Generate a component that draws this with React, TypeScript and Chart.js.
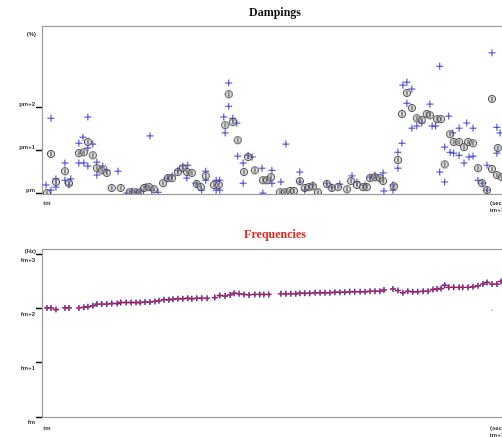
import React, { useEffect, useRef } from "react";
import { Chart, registerables } from "chart.js";
Chart.register(...registerables);

// ---- time axis ticks (tm .. tm+1) ----
const timeTicks = [0, 100];
const timeTickLabels = [["tm"], ["(sec)", "tm+1"]];

// ---- Dampings ----
const dampTicks = [0, 1, 2];
const dampTickLabels = ["pm", "pm+1", "pm+2"];
const dampUnit = "(%)";

// circled estimates
const dampCircleT = [0, 0.9, 2.0, 4.0, 4.9, 7.1, 8.2, 9.1, 10.2, 11.1, 12.2, 13.3, 14.4, 16.4, 18.4, 19.6, 20.7, 21.6, 22.7, 23.8, 25.8, 26.9, 27.8, 29.1, 30.2, 31.1, 32.2, 33.3, 34.2, 35.3, 37.1, 38.2, 39.6, 40.4, 41.3, 42.4, 43.8, 44.7, 46.2, 48.0, 48.9, 49.8, 51.8, 52.9, 54.0, 54.9, 56.2, 57.3, 58.2, 59.1, 60.2, 62.2, 63.3, 64.7, 66.7, 67.6, 68.9, 70.2, 71.1, 71.8, 72.9, 74.0, 74.7, 77.1, 78.0, 78.9, 80.0, 81.1, 82.2, 83.3, 84.4, 85.1, 86.7, 87.6, 88.4, 89.6, 90.4, 91.6, 92.7, 93.6, 94.7, 95.8, 96.7, 97.8, 98.9, 98.9, 100, 101.1, 100.2];
const dampCircleV = [0.0, 0.91, 0.26, 0.51, 0.23, 0.93, 0.95, 1.19, 0.88, 0.58, 0.53, 0.47, 0.12, 0.12, 0.02, 0.02, 0.02, 0.12, 0.14, 0.09, 0.23, 0.35, 0.35, 0.49, 0.58, 0.49, 0.47, 0.21, 0.14, 0.40, 0.19, 0.19, 1.58, 2.30, 1.65, 1.23, 0.49, 0.84, 0.53, 0.30, 0.30, 0.37, 0.02, 0.02, 0.05, 0.05, 0.28, 0.12, 0.14, 0.16, 0.02, 0.21, 0.12, 0.14, 0.09, 0.28, 0.19, 0.14, 0.14, 0.35, 0.37, 0.35, 0.28, 0.16, 0.77, 1.84, 2.33, 1.98, 1.74, 1.70, 1.84, 1.81, 1.72, 1.72, 0.67, 1.37, 1.19, 1.19, 1.07, 1.19, 1.16, 0.58, 0.23, 0.07, 2.19, 0.56, 0.42, 0.37, 1.05];

// blue cross estimates
const dampCrossT = [-0.2, 0.9, 0.9, 2.0, 2.0, 4.0, 4.0, 5.3, 4.9, 7.1, 8.0, 9.1, 10.2, 9.1, 7.1, 8.2, 9.1, 11.1, 11.1, 12.4, 13.3, 15.8, 22.9, 17.8, 18.9, 20.0, 20.9, 22.0, 23.3, 24.7, 26.7, 27.8, 29.1, 30.2, 31.3, 31.1, 33.1, 35.3, 35.3, 34.4, 37.6, 38.4, 37.6, 38.4, 40.4, 40.4, 39.3, 39.6, 41.3, 42.2, 42.4, 43.6, 43.6, 44.7, 45.6, 47.8, 48.0, 50.0, 50.0, 52.0, 53.1, 56.2, 56.2, 57.3, 59.1, 62.2, 63.3, 65.1, 67.8, 68.9, 70.7, 71.8, 72.9, 74.7, 74.9, 76.9, 76.9, 78.0, 78.0, 78.9, 79.1, 80.0, 81.1, 80.0, 81.1, 82.2, 83.3, 85.1, 85.6, 86.4, 87.3, 89.3, 88.4, 89.6, 90.4, 91.6, 87.3, 88.4, 90.2, 91.6, 93.3, 94.7, 92.7, 93.8, 94.7, 95.8, 96.9, 97.8, 98.9, 97.8, 100, 100, 100.7];
const dampCrossV = [0.19, 0.07, 1.74, 0.33, 0.14, 0.70, 0.30, 0.33, 0.19, 1.16, 1.30, 1.77, 1.14, 1.05, 0.70, 0.70, 0.63, 0.72, 0.42, 0.63, 0.53, 0.51, 1.33, 0.0, 0.05, 0.02, 0.05, 0.16, 0.07, 0.02, 0.35, 0.40, 0.53, 0.63, 0.65, 0.35, 0.23, 0.51, 0.30, 0.07, 0.30, 0.30, 0.07, 0.07, 2.56, 2.02, 1.77, 1.40, 1.74, 1.63, 0.86, 0.70, 0.23, 0.88, 0.84, 0.58, 0.0, 0.53, 0.23, 0.26, 1.14, 0.49, 0.26, 0.07, 0.19, 0.23, 0.14, 0.21, 0.40, 0.26, 0.19, 0.37, 0.42, 0.47, 0.05, 0.19, 0.07, 0.95, 0.58, 1.16, 2.51, 2.58, 2.42, 2.09, 1.51, 1.56, 1.63, 2.07, 1.56, 1.56, 2.95, 1.79, 1.07, 0.95, 0.93, 0.88, 0.49, 0.26, 1.40, 1.51, 1.63, 1.51, 0.70, 0.84, 0.86, 0.30, 0.23, 0.07, 3.26, 0.65, 1.53, 0.93, 1.40];

// ---- Frequencies ----
const freqTicks = [0, 1, 2, 3];
const freqTickLabels = ["fm", "fm+1", "fm+2", "fm+3"];
const freqUnit = "(Hz)";
const freqT = [0, 0.9, 2.0, 4.0, 4.9, 7.1, 8.2, 9.1, 10.2, 11.1, 12.2, 13.3, 14.4, 15.6, 16.4, 17.6, 18.7, 19.8, 20.7, 21.8, 22.9, 24.0, 24.9, 26.0, 27.1, 28.0, 29.1, 30.2, 31.3, 32.2, 33.3, 34.4, 35.6, 37.3, 38.4, 39.6, 40.7, 41.6, 42.7, 43.8, 44.9, 46.2, 47.3, 48.2, 49.3, 52.0, 53.1, 54.2, 55.3, 56.2, 57.3, 58.4, 59.6, 60.7, 61.8, 62.9, 64.0, 65.1, 66.2, 67.3, 68.4, 69.6, 70.7, 71.8, 72.9, 74.0, 74.9, 76.9, 78.0, 79.1, 80.2, 81.3, 82.4, 83.6, 84.7, 85.8, 86.7, 87.6, 88.4, 89.3, 90.4, 91.6, 92.4, 93.6, 94.7, 95.8, 96.9, 97.8, 98.9, 100, 100.9];
const freqV = [2.02, 2.02, 1.99, 2.02, 2.02, 2.02, 2.03, 2.04, 2.06, 2.09, 2.09, 2.09, 2.10, 2.10, 2.12, 2.12, 2.12, 2.12, 2.12, 2.13, 2.13, 2.14, 2.15, 2.17, 2.17, 2.18, 2.19, 2.19, 2.20, 2.19, 2.20, 2.20, 2.20, 2.21, 2.25, 2.24, 2.26, 2.29, 2.28, 2.27, 2.26, 2.27, 2.27, 2.27, 2.27, 2.28, 2.28, 2.28, 2.28, 2.29, 2.29, 2.29, 2.30, 2.30, 2.30, 2.30, 2.31, 2.31, 2.31, 2.32, 2.32, 2.32, 2.32, 2.33, 2.33, 2.33, 2.35, 2.37, 2.34, 2.30, 2.33, 2.32, 2.32, 2.33, 2.33, 2.36, 2.37, 2.38, 2.44, 2.40, 2.40, 2.40, 2.40, 2.40, 2.41, 2.43, 2.46, 2.49, 2.46, 2.46, 2.51];
const freqFaintT = [98.9];
const freqFaintV = [1.98];

const SANS = '"Liberation Sans", Arial, sans-serif';
const SERIF = '"Liberation Serif", "Times New Roman", serif';
const CW = 558;

const pts = (t: number[], v: number[]) => t.map((x, i) => ({ x, y: v[i] }));

const framePlugin = {
  id: "frame",
  beforeDatasetsDraw(chart: any) {
    const { ctx, chartArea } = chart;
    const { left, top, right, bottom } = chartArea;
    ctx.save();
    ctx.strokeStyle = "#9a9a9a";
    ctx.lineWidth = 1.2;
    ctx.strokeRect(left + 0.5, top + 0.5, right - left, bottom - top);
    ctx.restore();
  },
  afterDraw(chart: any, _args: any, opts: any) {
    const { ctx, chartArea } = chart;
    ctx.save();
    ctx.fillStyle = "#333";
    ctx.font = `bold 6px ${SANS}`;
    ctx.textAlign = "right";
    ctx.textBaseline = "middle";
    ctx.fillText(opts.unit || "", chartArea.left - 6, chartArea.top + (opts.unitDy || 0));
    ctx.restore();
  },
};

function makeCircleMarker() {
  const c = document.createElement("canvas");
  c.width = 10;
  c.height = 10;
  const g = c.getContext("2d")!;
  g.beginPath();
  g.arc(5, 5, 3.6, 0, Math.PI * 2);
  g.fillStyle = "rgba(190,190,190,0.45)";
  g.fill();
  g.strokeStyle = "#444";
  g.lineWidth = 1;
  g.stroke();
  g.strokeStyle = "#333";
  g.beginPath();
  g.moveTo(5, 2.8);
  g.lineTo(5, 7.2);
  g.stroke();
  return c;
}

function xScale(xAxisH: number, pad: number) {
  return {
    type: "linear",
    min: -1.1,
    max: 111.8,
    afterBuildTicks: (s: any) => {
      s.ticks = timeTicks.map((v) => ({ value: v }));
    },
    afterFit: (s: any) => {
      s.height = xAxisH;
    },
    grid: { display: false, drawTicks: false },
    border: { display: false },
    ticks: {
      autoSkip: false,
      maxRotation: 0,
      padding: pad,
      color: "#333",
      font: { family: SANS, size: 6, weight: "bold" },
      callback: (v: any) => {
        const i = timeTicks.indexOf(v);
        return i >= 0 ? timeTickLabels[i] : "";
      },
    },
  };
}

function yScale(min: number, max: number, ticks: number[], labels: string[], labelOffset: number) {
  return {
    type: "linear",
    min,
    max,
    afterBuildTicks: (s: any) => {
      s.ticks = ticks.map((v) => ({ value: v }));
    },
    afterFit: (s: any) => {
      s.width = 42;
    },
    grid: { drawOnChartArea: false, tickLength: 6, tickColor: "#111", tickWidth: 1.5 },
    border: { display: false },
    ticks: {
      autoSkip: false,
      padding: 1,
      labelOffset,
      color: "#333",
      font: { family: SANS, size: 6, weight: "bold" },
      callback: (v: any) => {
        const i = ticks.indexOf(v);
        return i >= 0 ? labels[i] : "";
      },
    },
  };
}

export default function App() {
  const r1 = useRef<HTMLCanvasElement>(null);
  const r2 = useRef<HTMLCanvasElement>(null);

  useEffect(() => {
    const marker = makeCircleMarker();
    const c1 = new Chart(r1.current!, {
      type: "scatter",
      data: {
        datasets: [
          {
            data: pts(dampCircleT, dampCircleV),
            pointStyle: marker as any,
            pointRadius: 4,
          },
          {
            data: pts(dampCrossT, dampCrossV),
            pointStyle: "cross",
            pointRadius: 3.5,
            borderColor: "#3a3ad6",
            borderWidth: 1,
          },
        ],
      } as any,
      options: {
        animation: false,
        responsive: false,
        devicePixelRatio: 1,
        layout: { padding: { left: 0, right: 8, top: 0, bottom: 0 } },
        plugins: {
          legend: { display: false },
          tooltip: { enabled: false },
          title: {
            display: true,
            text: "Dampings",
            color: "#111",
            font: { family: SERIF, size: 12, weight: "bold" },
            padding: { top: 6, bottom: 5.6 },
          },
          frame: { unit: dampUnit, unitDy: 8 },
        },
        scales: {
          x: xScale(24, 6),
          y: yScale(-0.02, 3.885, dampTicks, dampTickLabels, -3),
        },
      } as any,
      plugins: [framePlugin],
    });

    const c2 = new Chart(r2.current!, {
      type: "scatter",
      data: {
        datasets: [
          {
            data: pts(freqFaintT, freqFaintV),
            pointStyle: "rect",
            pointRadius: 1.5,
            backgroundColor: "#d8d8d8",
            borderWidth: 0,
          },
          {
            data: pts(freqT, freqV),
            pointStyle: "circle",
            pointRadius: 1.5,
            backgroundColor: "#cc2a2a",
            borderWidth: 0,
          },
          {
            data: pts(freqT, freqV),
            pointStyle: "cross",
            pointRadius: 3,
            borderColor: "#3a22c8",
            borderWidth: 1.4,
          },
        ],
      } as any,
      options: {
        animation: false,
        responsive: false,
        devicePixelRatio: 1,
        layout: { padding: { left: 0, right: 8, top: 0, bottom: 0 } },
        plugins: {
          legend: { display: false },
          tooltip: { enabled: false },
          title: {
            display: true,
            text: "Frequencies",
            color: "#e8231b",
            font: { family: SERIF, size: 12, weight: "bold" },
            padding: { top: 7.8, bottom: 6.8 },
          },
          frame: { unit: freqUnit, unitDy: 2 },
        },
        scales: {
          x: xScale(20, 8),
          y: yScale(0, 3.11, freqTicks, freqTickLabels, 5),
        },
      } as any,
      plugins: [framePlugin],
    });

    return () => {
      c1.destroy();
      c2.destroy();
    };
  }, []);

  return (
    <div
      style={{
        position: "fixed",
        left: 0,
        top: 0,
        width: 502,
        height: 437,
        overflow: "hidden",
        background: "#fff",
      }}
    >
      <canvas
        ref={r1}
        width={CW}
        height={218}
        style={{ position: "absolute", left: 0, top: 0, width: CW, height: 218 }}
      />
      <canvas
        ref={r2}
        width={CW}
        height={217}
        style={{ position: "absolute", left: 0, top: 220, width: CW, height: 217 }}
      />
    </div>
  );
}
